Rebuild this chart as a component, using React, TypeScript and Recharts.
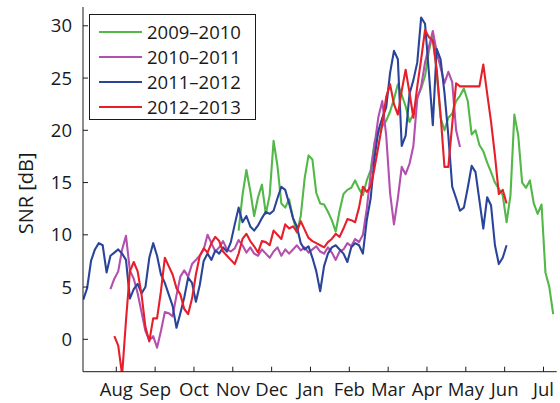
import { LineChart, Line, XAxis, YAxis, Legend } from 'recharts';

const FONT = '"Open Sans", "DejaVu Sans", sans-serif';
const INK = '#1a1a1a';

const MONTHS = ['Aug', 'Sep', 'Oct', 'Nov', 'Dec', 'Jan', 'Feb', 'Mar', 'Apr', 'May', 'Jun', 'Jul'];
const MONTH_TICKS = MONTHS.map((_, i) => i);
const SNR_TICKS = [0, 5, 10, 15, 20, 25, 30];

// x is measured in months from 1 Aug; one sample every 0.1 month (~3 days)
const GRID_START = -0.85;
const GRID_STEP = 0.1;
const GRID_COUNT = 122;

// SNR in dB, each season begins at its own grid index
const START_2009_2010 = 40;
const SNR_2009_2010 = [
  10.4, 13.8, 16.2, 14.2, 11.8, 13.6, 14.8, 12.0, 13.8, 19.0,
  16.6, 13.0, 12.6, 13.4, 11.6, 10.2, 11.8, 15.4, 17.6, 17.2,
  14.0, 13.0, 12.9, 12.2, 11.4, 10.3, 12.3, 13.9, 14.3, 14.5,
  15.2, 14.4, 13.8, 15.2, 16.2, 18.9, 19.8, 20.4, 20.9, 21.8,
  23.0, 24.4, 23.4, 22.3, 20.8, 21.6, 23.2, 24.0, 25.2, 27.6,
  29.2, 25.6, 21.2, 20.0, 21.2, 21.6, 22.8, 23.3, 24.0, 22.8,
  19.6, 20.0, 18.6, 18.0, 16.9, 16.0, 15.0, 14.4, 13.8, 11.2,
  13.8, 21.5, 19.5, 15.0, 14.5, 15.2, 13.0, 12.0, 12.9, 6.4,
  5.0, 2.4,
];

const START_2010_2011 = 7;
const SNR_2010_2011 = [
  4.8, 5.8, 6.5, 8.6, 9.9, 6.6, 5.8, 4.4, 2.6, 0.8,
  -0.1, 0.3, -0.8, 0.8, 2.6, 2.5, 2.2, 4.2, 6.0, 6.6,
  6.0, 7.2, 7.6, 8.0, 8.6, 10.0, 9.2, 8.4, 8.8, 9.4,
  8.6, 8.4, 8.7, 9.5, 9.0, 8.3, 8.8, 8.2, 8.0, 8.6,
  8.2, 7.8, 8.4, 8.8, 8.0, 8.6, 8.2, 8.6, 9.0, 8.5,
  8.8, 8.3, 8.6, 8.9, 8.4, 8.2, 8.8, 8.3, 7.6, 8.4,
  8.6, 9.2, 8.9, 9.6, 9.3, 10.0, 12.5, 15.8, 18.6, 21.3,
  22.8, 19.5, 14.0, 11.0, 13.5, 16.5, 15.8, 16.8, 18.5, 23.0,
  24.2, 26.5, 28.0, 29.5, 27.5, 26.0, 24.5, 25.6, 24.6, 20.0,
  18.4,
];

const START_2011_2012 = 0;
const SNR_2011_2012 = [
  3.8, 4.9, 7.5, 8.6, 9.2, 9.0, 6.4, 8.0, 8.3, 8.6,
  8.2, 7.6, 3.9, 4.8, 5.3, 4.4, 5.0, 7.8, 9.2, 8.0,
  6.2, 5.4, 4.3, 3.2, 1.1, 2.5, 4.0, 5.9, 5.4, 3.6,
  5.2, 7.5, 8.2, 7.6, 8.5, 8.2, 8.8, 8.4, 9.3, 11.0,
  12.6, 11.2, 11.8, 10.8, 10.4, 10.9, 11.6, 12.2, 12.0, 12.3,
  13.5, 14.6, 14.3, 13.0, 11.6, 10.8, 9.2, 8.6, 8.9, 7.8,
  6.5, 4.6, 7.0, 8.2, 8.8, 9.0, 8.6, 8.2, 7.4, 8.8,
  9.2, 9.0, 8.2, 11.4, 13.5, 17.4, 20.0, 21.2, 22.2, 25.5,
  27.6, 26.8, 18.5, 19.5, 23.5, 24.8, 26.5, 30.8, 30.2, 25.5,
  20.5, 27.8, 26.8, 23.6, 19.5, 14.6, 13.5, 12.3, 12.6, 14.5,
  16.6, 16.0, 13.3, 10.6, 13.6, 12.8, 9.0, 7.2, 7.8, 9.0,
];

const START_2012_2013 = 8;
const SNR_2012_2013 = [
  0.3, -0.6, -3.4, 1.8, 6.5, 7.4, 6.5, 4.3, 1.2, -0.2,
  2.0, 2.0, 4.6, 7.8, 7.0, 6.2, 4.9, 4.3, 2.9, 2.4,
  3.9, 6.2, 8.0, 8.7, 8.3, 9.2, 9.8, 9.4, 8.4, 8.0,
  7.6, 7.2, 8.2, 9.6, 10.1, 9.4, 8.9, 8.3, 9.4, 9.3,
  9.0, 10.4, 10.0, 9.6, 11.0, 10.6, 10.8, 10.3, 11.3, 10.5,
  9.7, 9.4, 9.2, 9.0, 8.8, 9.3, 9.6, 10.1, 9.8, 10.6,
  11.5, 11.4, 11.2, 12.6, 14.6, 14.1, 14.6, 16.4, 18.5, 20.6,
  23.2, 24.4, 22.5, 21.5, 23.8, 25.8, 23.6, 21.2, 24.2, 26.8,
  29.6, 28.9, 28.6, 25.8, 21.5, 16.5, 16.5, 20.6, 24.5, 24.2,
  24.2, 24.2, 24.2, 24.2, 24.2, 26.3, 23.5, 20.8, 17.6, 13.9,
  14.3, 13.0,
];

const SERIES = [
  { key: 's0910', name: '2009–2010', color: '#52b848', start: START_2009_2010, values: SNR_2009_2010 },
  { key: 's1011', name: '2010–2011', color: '#b34fae', start: START_2010_2011, values: SNR_2010_2011 },
  { key: 's1112', name: '2011–2012', color: '#2a4499', start: START_2011_2012, values: SNR_2011_2012 },
  { key: 's1213', name: '2012–2013', color: '#e61f2a', start: START_2012_2013, values: SNR_2012_2013 },
];

const chartData = Array.from({ length: GRID_COUNT }, (_, i) => {
  const row: Record<string, number | null> = {
    m: Math.round((GRID_START + i * GRID_STEP) * 100) / 100,
  };
  SERIES.forEach((s) => {
    const v = s.values[i - s.start];
    row[s.key] = v === undefined ? null : v;
  });
  return row;
});

const X_DOMAIN = [-0.857, 11.34];
const Y_DOMAIN = [-3.1, 31.8];
const TICK_LEN = 5;

function LeftTick({ x, y, payload }: any) {
  return (
    <g>
      <line x1={x} x2={x + TICK_LEN} y1={y} y2={y} stroke={INK} />
      <text x={x - 11} y={y} dy="0.36em" textAnchor="end" fontSize={18.5} fontFamily={FONT} fill={INK}>
        {payload.value}
      </text>
    </g>
  );
}

function RightTick({ x, y }: any) {
  return <line x1={x} x2={x - TICK_LEN} y1={y} y2={y} stroke={INK} />;
}

function BottomTick({ x, y, payload }: any) {
  return (
    <g>
      <line x1={x} x2={x} y1={y} y2={y - TICK_LEN} stroke={INK} />
      <text x={x} y={y + 24.5} textAnchor="middle" fontSize={18.5} fontFamily={FONT} fill={INK}>
        {MONTHS[payload.value]}
      </text>
    </g>
  );
}

function TopTick({ x, y }: any) {
  return <line x1={x} x2={x} y1={y} y2={y + TICK_LEN} stroke={INK} />;
}

function LegendBox() {
  return (
    <div
      style={{
        boxSizing: 'border-box',
        width: 167,
        height: 106,
        border: `1px solid ${INK}`,
        background: '#fff',
        paddingTop: 4,
        fontFamily: FONT,
      }}
    >
      {SERIES.map((s) => (
        <div key={s.key} style={{ display: 'flex', alignItems: 'center', height: 25 }}>
          <span style={{ width: 43, borderTop: `2px solid ${s.color}`, marginLeft: 9, marginRight: 5 }} />
          <span style={{ fontSize: 18.5, lineHeight: '25px', color: INK }}>{s.name}</span>
        </div>
      ))}
    </div>
  );
}

export default function App() {
  return (
    <div style={{ position: 'absolute', left: 0, top: 0, width: 560, height: 403, background: '#fff' }}>
      <LineChart width={560} height={403} data={chartData} margin={{ top: 7, right: 3.3, bottom: 0, left: 0 }}>
        <XAxis
          dataKey="m"
          type="number"
          domain={X_DOMAIN}
          ticks={MONTH_TICKS}
          allowDataOverflow
          height={31.3}
          tickSize={0}
          tickMargin={0}
          tickLine={false}
          axisLine={{ stroke: INK }}
          tick={<BottomTick />}
          interval={0}
        />
        <XAxis
          xAxisId="top"
          orientation="top"
          type="number"
          domain={X_DOMAIN}
          ticks={MONTH_TICKS}
          allowDataOverflow
          height={0}
          tickSize={0}
          tickMargin={0}
          tickLine={false}
          axisLine={{ stroke: INK }}
          tick={<TopTick />}
          interval={0}
        />
        <YAxis
          type="number"
          domain={Y_DOMAIN}
          ticks={SNR_TICKS}
          allowDataOverflow
          width={83}
          tickSize={0}
          tickMargin={0}
          tickLine={false}
          axisLine={{ stroke: INK }}
          tick={<LeftTick />}
          interval={0}
          label={{
            content: ({ viewBox }: any) => {
              const cx = viewBox.x + 26;
              const cy = viewBox.y + viewBox.height / 2 + 4;
              return (
                <text
                  x={cx}
                  y={cy}
                  transform={`rotate(-90 ${cx} ${cy})`}
                  textAnchor="middle"
                  dy="0.36em"
                  fontSize={20}
                  fontFamily={FONT}
                  fill={INK}
                >
                  SNR [dB]
                </text>
              );
            },
          }}
        />
        <YAxis
          yAxisId="right"
          orientation="right"
          type="number"
          domain={Y_DOMAIN}
          ticks={SNR_TICKS}
          allowDataOverflow
          width={0}
          tickSize={0}
          tickMargin={0}
          tickLine={false}
          axisLine={{ stroke: INK }}
          tick={<RightTick />}
          interval={0}
        />
        <Legend
          layout="vertical"
          align="center"
          verticalAlign="middle"
          wrapperStyle={{ position: 'absolute', left: 89, top: 14, width: 'auto', height: 'auto' }}
          content={() => <LegendBox />}
        />
        {SERIES.map((s) => (
          <Line
            key={s.key}
            dataKey={s.key}
            name={s.name}
            type="linear"
            stroke={s.color}
            strokeWidth={2.1}
            strokeLinejoin="round"
            dot={false}
            activeDot={false}
            connectNulls={false}
            isAnimationActive={false}
          />
        ))}
      </LineChart>
    </div>
  );
}
